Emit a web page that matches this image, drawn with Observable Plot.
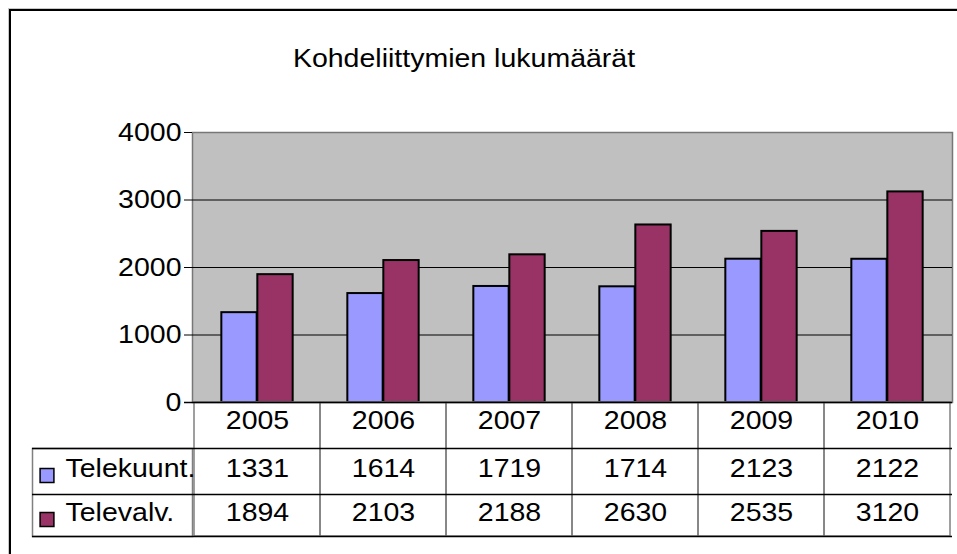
<!DOCTYPE html>
<html>
<head>
<meta charset="utf-8">
<script src="https://cdn.jsdelivr.net/npm/d3@7"></script>
<script src="https://cdn.jsdelivr.net/npm/@observablehq/plot@0.6"></script>
<style>
  html, body { margin: 0; padding: 0; background: #fff; }
  #wrap { position: relative; width: 957px; height: 554px; overflow: hidden; }
  #chart svg { display: block; }
  .frameLine { position: absolute; pointer-events: none; }
</style>
</head>
<body>
<div id="wrap">
  <div id="chart"></div>
  <div class="frameLine" style="left:8px;top:8px;width:949px;height:1px;background:#c8c8c8"></div>
  <div class="frameLine" style="left:8px;top:8px;width:1px;height:546px;background:#c8c8c8"></div>
  <div class="frameLine" style="left:9px;top:9px;width:948px;height:2px;background:#000"></div>
  <div class="frameLine" style="left:9px;top:9px;width:2px;height:545px;background:#000"></div>
</div>
<script>
const title = "Kohdeliittymien lukumäärät";
const years = ["2005", "2006", "2007", "2008", "2009", "2010"];
const seriesNames = ["Telekuunt.", "Televalv."];
const telekuunt = [1331, 1614, 1719, 1714, 2123, 2122];
const televalv = [1894, 2103, 2188, 2630, 2535, 3120];
const yTicks = [0, 1000, 2000, 3000, 4000];
const gridTicks = [1000, 2000, 3000];
const colors = ["#9999FF", "#993366"];

const rowsA = years.map((year, i) => ({year, series: seriesNames[0], value: telekuunt[i]}));
const rowsB = years.map((year, i) => ({year, series: seriesNames[1], value: televalv[i]}));

const FONT = 25;
const STRETCH = 1.14; // horizontal stretch of the original rendering
const band = (952 - 192) / years.length; // px width of each category band
const barW = 36;
const outer = band / 2 - barW;

const chart = Plot.plot({
  width: 957,
  height: 554,
  marginLeft: 192,
  marginRight: 5,
  marginTop: 132,
  marginBottom: 152,
  style: {fontFamily: "'Liberation Sans', Arial, sans-serif", fontSize: "25px", color: "black", background: "transparent", overflow: "visible"},
  x: {domain: years, padding: 0, axis: null},
  y: {domain: [0, 4000], axis: null},
  color: {domain: seriesNames, range: colors},
  marks: [
    Plot.frame({fill: "#C0C0C0", stroke: "#777", strokeWidth: 1.5}),
    Plot.ruleY(gridTicks, {stroke: "#000", strokeWidth: 1}),
    Plot.barY(rowsA, {x: "year", y: "value", fill: "series", stroke: "#000", strokeWidth: 2, insetLeft: outer, insetRight: band / 2}),
    Plot.barY(rowsB, {x: "year", y: "value", fill: "series", stroke: "#000", strokeWidth: 2, insetLeft: band / 2, insetRight: outer}),
    Plot.axisY(yTicks, {tickSize: 8, tickPadding: 3, tickFormat: d => String(d), fontSize: FONT, label: null, stroke: "#000"}),
    Plot.cell(years, {x: d => d, fill: "none", stroke: "#808080", strokeWidth: 1.5, insetTop: 270, insetBottom: -134}),
    Plot.frame({stroke: "#808080", strokeWidth: 1.5, insetLeft: -160, insetRight: 760, insetTop: 316, insetBottom: -134}),
    Plot.ruleY([0], {stroke: "#000", strokeWidth: 1.5, insetLeft: -8}),
    Plot.ruleY([0], {stroke: "#000", strokeWidth: 1.5, insetLeft: -160, dy: 46}),
    Plot.ruleY([0], {stroke: "#000", strokeWidth: 1.5, insetLeft: -160, dy: 92}),
    Plot.ruleY([0], {stroke: "#000", strokeWidth: 1.5, insetLeft: -160, dy: 134}),
    Plot.text(years, {x: d => d, text: d => d, frameAnchor: "bottom", dy: 26, fontSize: FONT, fill: "#000"}),
    Plot.text(rowsA, {x: "year", text: d => String(d.value), frameAnchor: "bottom", dy: 74, fontSize: FONT, fill: "#000"}),
    Plot.text(rowsB, {x: "year", text: d => String(d.value), frameAnchor: "bottom", dy: 118, fontSize: FONT, fill: "#000"}),
    Plot.dot([seriesNames[0]], {fill: d => d, stroke: "#000", strokeWidth: 1.5, symbol: "square", r: 7.8, frameAnchor: "bottom-left", dx: -145.5, dy: 73}),
    Plot.dot([seriesNames[1]], {fill: d => d, stroke: "#000", strokeWidth: 1.5, symbol: "square", r: 7.8, frameAnchor: "bottom-left", dx: -145.5, dy: 117}),
    Plot.text([seriesNames[0]], {text: d => d, frameAnchor: "bottom-left", textAnchor: "start", dx: -127, dy: 74, fontSize: FONT, fill: "#000"}),
    Plot.text([seriesNames[1]], {text: d => d, frameAnchor: "bottom-left", textAnchor: "start", dx: -127, dy: 118, fontSize: FONT, fill: "#000"}),
    Plot.text([title], {text: d => d, frameAnchor: "top-left", textAnchor: "middle", dx: 271.5, dy: -83, fontSize: FONT, fill: "#000"})
  ]
});
document.getElementById("chart").appendChild(chart);

// reproduce the horizontally stretched lettering of the original picture
chart.querySelectorAll("text").forEach(el => {
  const len = el.getComputedTextLength();
  if (len > 0) {
    el.setAttribute("textLength", (len * STRETCH).toFixed(1));
    el.setAttribute("lengthAdjust", "spacingAndGlyphs");
  }
});
</script>
</body>
</html>
